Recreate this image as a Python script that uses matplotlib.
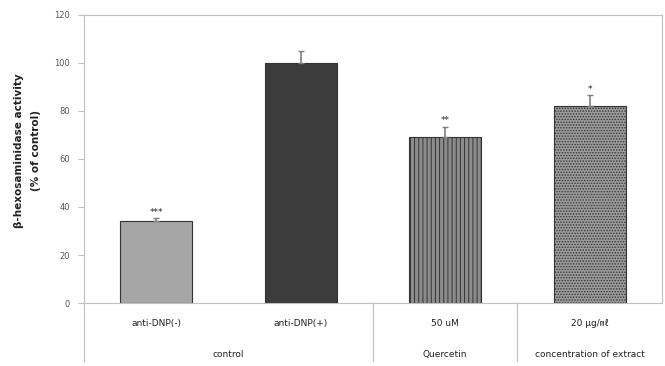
import matplotlib
matplotlib.use("Agg")
import matplotlib.pyplot as plt

plt.rcParams['font.family'] = ['DejaVu Sans', 'Noto Sans CJK KR']
plt.rcParams['hatch.linewidth'] = 0.7

# data
Nazvy = ["anti-DNP(-)", "anti-DNP(+)", "50 uM", "20 μg/㎖"]
Hodnoty = [34, 100, 69, 82]
Chyby = [1.5, 5, 4.5, 4.5]
Hvezdy = ["***", "", "**", "*"]
Skupiny = ["control", "Quercetin", "concentration of extract"]
Skupiny_x = [0.5, 2, 3]
Barvy = ["#a6a6a6", "#3c3c3c", "#8c8c8c", "#9c9c9c"]
Srafy = [None, None, "||||", "......"]
Yticky = [0, 20, 40, 60, 80, 100, 120]

fig = plt.figure(figsize=(6.65, 3.66), dpi=100)
ax = fig.add_axes([0.1263, 0.1721, 0.869, 0.787])

for i in range(len(Hodnoty)):
    ax.bar(i, Hodnoty[i], width=0.5, color=Barvy[i], edgecolor="#333333",
           linewidth=0.8, hatch=Srafy[i], zorder=2)
    ax.errorbar(i, Hodnoty[i], yerr=[[0], [Chyby[i]]], color="#7f7f7f",
                capsize=2.5, elinewidth=1.2, capthick=1, zorder=3)
    if Hvezdy[i]:
        ax.text(i, Hodnoty[i] + Chyby[i] + 0.5, Hvezdy[i], ha="center", va="bottom",
                fontsize=6.5, color="#222222")

ax.set_xlim(-0.5, 3.5)
ax.set_ylim(0, 120)
ax.set_yticks(Yticky)
ax.set_yticklabels([str(t) for t in Yticky], fontsize=6, color="#555555")
ax.set_xticks([])
ax.tick_params(axis="y", length=4, width=0.8, color="#bfbfbf", pad=6)
for s in ax.spines.values():
    s.set_color("#bfbfbf")
    s.set_linewidth(0.8)

ax.set_ylabel("β-hexosaminidase activity\n(% of control)", fontsize=7.5,
              fontweight="bold", color="#222222", linespacing=1.9)
ax.yaxis.set_label_coords(-0.074, 0.53)

tr = ax.get_xaxis_transform()
for i in range(len(Nazvy)):
    ax.text(i, -0.07, Nazvy[i], transform=tr, ha="center", va="center",
            fontsize=6.5, color="#222222")
for i in range(len(Skupiny)):
    ax.text(Skupiny_x[i], -0.18, Skupiny[i], transform=tr, ha="center", va="center",
            fontsize=6.5, color="#222222")
for x in [-0.5, 1.5, 2.5]:
    ax.plot([x, x], [0, -0.2], transform=tr, color="#bfbfbf", lw=0.8, clip_on=False)

fig.savefig("out.png", dpi=100)
